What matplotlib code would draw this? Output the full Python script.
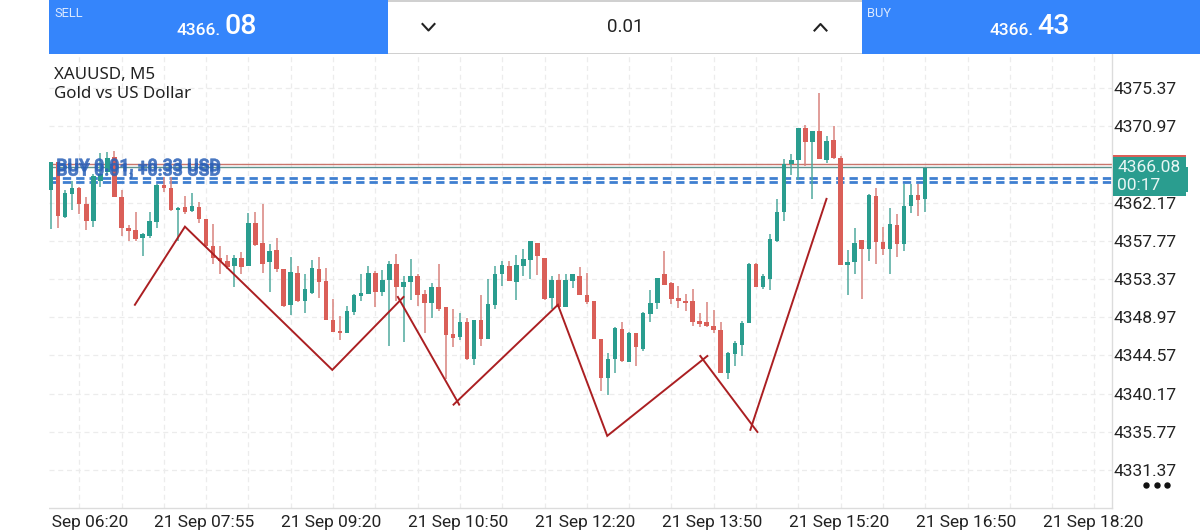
import matplotlib
matplotlib.use("Agg")
import matplotlib.pyplot as plt
import matplotlib.patheffects as pe
from matplotlib.patches import Rectangle
from matplotlib.transforms import ScaledTranslation

W, H = 1200, 532

opens = [4363.6,4366.8,4360.5,4363.2,4363.8,4362.0,4360.0,4364.7,4365.7,4367.4,
         4362.8,4359.2,4359.0,4358.1,4358.3,4359.9,4364.2,4363.8,4361.3,4361.7,
         4361.2,4361.7,4360.3,4357.2,4355.8,4355.5,4354.9,4355.8,4354.9,4359.8,
         4357.5,4355.3,4356.7,4354.5,4350.4,4354.1,4350.8,4351.8,4354.5,4353.1,
         4348.7,4347.4,4347.1,4349.6,4351.4,4351.7,4354.1,4351.9,4353.2,4355.1,
         4352.4,4353.0,4353.7,4351.7,4350.6,4352.4,4350.1,4347.0,4346.7,4348.4,
         4344.2,4348.7,4346.5,4350.4,4353.9,4354.9,4353.0,4354.9,4355.6,4357.5,
         4355.8,4351.2,4353.2,4350.2,4353.1,4353.7,4351.5,4350.8,4346.5,4342.0,
         4344.1,4347.6,4343.8,4347.1,4345.3,4349.3,4350.6,4353.9,4352.9,4351.2,
         4350.8,4350.8,4348.5,4348.4,4348.0,4347.5,4342.6,4344.7,4345.8,4348.3,
         4355.1,4352.4,4353.4,4357.8,4361.1,4366.6,4367.1,4370.8,4369.2,4370.4,
         4367.1,4369.4,4367.3,4355.0,4355.3,4357.9,4356.8,4362.9,4357.6,4356.8,
         4359.6,4357.4,4361.8,4363.1,4362.6]
highs = [4366.8,4366.8,4363.6,4364.7,4364.0,4362.8,4365.5,4367.9,4368.0,4368.1,
         4363.6,4359.6,4361.1,4358.7,4361.1,4364.3,4365.1,4365.1,4361.7,4362.9,
         4363.3,4362.2,4360.3,4359.7,4357.2,4356.1,4356.1,4356.5,4361.0,4361.1,
         4362.0,4357.4,4358.1,4354.5,4355.9,4354.9,4353.9,4355.6,4355.9,4354.6,
         4351.1,4349.1,4350.3,4351.7,4354.0,4354.9,4354.3,4354.4,4355.5,4356.2,
         4353.7,4355.7,4354.0,4352.1,4352.9,4355.1,4350.1,4349.9,4349.4,4348.9,
         4348.7,4351.5,4353.4,4354.9,4355.4,4355.4,4356.1,4356.8,4357.7,4357.5,
         4355.8,4353.7,4354.0,4353.9,4353.9,4354.8,4354.1,4350.8,4346.5,4344.8,
         4347.8,4348.4,4347.3,4347.1,4349.6,4352.1,4353.5,4356.6,4353.0,4352.6,
         4351.7,4352.2,4349.5,4350.7,4349.8,4348.4,4345.0,4346.2,4348.5,4355.2,
         4355.2,4354.0,4358.5,4362.6,4367.2,4367.8,4370.8,4371.1,4370.4,4374.8,
         4369.8,4371.0,4367.5,4356.7,4359.3,4357.9,4363.2,4363.8,4359.4,4361.5,
         4360.8,4364.3,4364.3,4364.3,4366.2]
lows = [4359.1,4359.2,4360.4,4361.3,4360.8,4359.0,4359.4,4364.0,4365.5,4362.8,
        4358.3,4357.8,4357.8,4356.0,4358.1,4359.3,4363.4,4361.2,4357.8,4360.9,
        4361.1,4359.8,4357.0,4355.1,4354.0,4354.5,4352.5,4354.0,4354.9,4357.2,
        4354.1,4351.9,4354.2,4350.2,4349.2,4350.7,4349.4,4351.7,4351.2,4348.6,
        4347.3,4346.4,4347.1,4349.2,4350.8,4351.7,4350.1,4351.4,4345.7,4350.8,
        4346.1,4350.9,4350.3,4347.1,4348.9,4349.7,4341.9,4345.5,4346.4,4344.0,
        4343.5,4345.6,4346.5,4349.9,4352.6,4353.1,4350.9,4353.7,4353.4,4353.8,
        4351.0,4349.9,4350.1,4350.1,4352.3,4351.5,4350.5,4346.5,4340.5,4340.0,
        4342.6,4343.8,4343.8,4343.4,4345.1,4348.4,4349.9,4352.7,4350.5,4350.0,
        4349.7,4348.0,4347.8,4347.8,4347.2,4342.6,4341.8,4343.4,4344.5,4348.3,
        4352.4,4352.2,4352.1,4357.6,4360.1,4365.3,4364.8,4366.4,4362.6,4367.2,
        4366.7,4367.2,4355.0,4351.5,4353.9,4351.1,4355.5,4355.1,4356.1,4353.9,
        4355.9,4356.6,4361.0,4360.6,4361.1]
closes = [4366.8,4360.6,4363.3,4363.8,4362.0,4360.0,4365.2,4365.5,4367.3,4362.8,
          4359.2,4358.9,4358.0,4358.5,4360.0,4364.2,4363.8,4361.3,4361.5,4361.1,
          4361.8,4360.3,4357.2,4355.8,4355.4,4354.7,4355.8,4354.8,4359.8,4357.3,
          4355.1,4356.6,4354.5,4350.3,4354.2,4350.8,4352.2,4354.6,4353.0,4348.6,
          4347.3,4347.2,4349.7,4351.5,4351.8,4354.1,4351.9,4353.2,4355.1,4352.5,
          4353.0,4353.7,4351.5,4350.6,4352.4,4349.9,4346.9,4346.6,4348.4,4344.2,
          4348.7,4346.5,4350.5,4354.0,4355.0,4353.1,4355.0,4355.7,4357.7,4356.0,
          4351.1,4353.3,4350.2,4353.2,4353.9,4351.5,4350.7,4346.5,4342.0,4344.2,
          4347.7,4343.9,4347.2,4345.5,4349.5,4350.6,4353.5,4352.7,4351.1,4350.8,
          4350.6,4348.4,4348.2,4347.9,4347.5,4342.6,4344.9,4346.0,4348.3,4355.1,
          4352.4,4353.7,4358.0,4361.1,4366.6,4367.1,4370.8,4369.1,4370.4,4367.2,
          4369.3,4367.3,4355.0,4355.3,4357.5,4356.8,4363.0,4357.6,4356.8,4359.7,
          4357.4,4361.8,4363.1,4362.5,4366.2]

price_ticks = [4375.37, 4370.97, 4366.57, 4362.17, 4357.77, 4353.37,
               4348.97, 4344.57, 4340.17, 4335.77, 4331.37]
hidden_price_tick = 4366.57  # sits under the current-price tag in the reference
grid_positions = [4 + 6 * k for k in range(25)]
time_labels = ["21 Sep 06:20", "21 Sep 07:55", "21 Sep 09:20", "21 Sep 10:50",
               "21 Sep 12:20", "21 Sep 13:50", "21 Sep 15:20", "21 Sep 16:50",
               "21 Sep 18:20"]

zig_a_x = [11.9, 19.0, 39.9, 50.0]
zig_a_y = [4350.4, 4359.4, 4342.9, 4351.3]
zig_b_x = [49.2, 57.9]
zig_b_y = [4351.3, 4338.9]
zig_c_x = [57.1, 71.9, 78.9, 93.1]
zig_c_y = [4338.9, 4350.4, 4335.3, 4344.5]
zig_d_x = [92.1, 100.2]
zig_d_y = [4344.5, 4335.75]
zig_e_x = [99.2, 110.0]
zig_e_y = [4336.0, 4362.6]

upper_level = 4366.62
lower_level = 4366.27
position_levels = [4365.04, 4364.58]

BLUE = "#3585fb"
GREEN = "#2a9d8f"
RED = "#da5f58"
GREEN_W = "#4fa99e"
RED_W = "#d9837d"
GRID = "#ececec"
SANS = "Roboto"

fig = plt.figure(figsize=(W / 100, H / 100), dpi=100, facecolor="white")
L, R, T, B = 49, 1111.5, 53, 508
ax = fig.add_axes([L / W, 1 - B / H, (R - L) / W, (B - T) / H])
ax.set_xlim((L - 51) / 7.05, (R - 51) / 7.05)
ax.set_ylim(4375.37 - (B - 88) / 8.682, 4375.37 - (T - 88) / 8.682)

for s in ("top", "left"):
    ax.spines[s].set_visible(False)
for s in ("right", "bottom"):
    ax.spines[s].set_color("#dcdcdc")
    ax.spines[s].set_linewidth(1)

ax.yaxis.tick_right()
ax.set_yticks(price_ticks)
ax.set_yticklabels(["" if p == hidden_price_tick else f"{p:.2f}" for p in price_ticks],
                   fontfamily=SANS, fontsize=12.5, color="#222222")
ax.set_xticks(grid_positions)
ax.set_xticklabels([time_labels[k // 3] if k % 3 == 0 else "" for k in range(len(grid_positions))],
                   fontfamily=SANS, fontsize=12.5, color="#222222")
ax.tick_params(axis="y", length=0, pad=1.5)
ax.tick_params(axis="x", length=0, pad=5)
shift = ScaledTranslation(-1.5 / 100, 0, fig.dpi_scale_trans)
for lbl in ax.get_xticklabels():
    lbl.set_transform(lbl.get_transform() + shift)
ax.grid(True, color=GRID, lw=0.9, ls=(0, (4, 3)), zorder=0)
ax.set_axisbelow(True)

ax.axhline(upper_level, color="#c9756c", lw=1.0, zorder=2)
ax.axhline(lower_level, color="#5f938e", lw=1.0, zorder=2)
for lev in position_levels:
    ax.axhline(lev, color="#3f7fd0", lw=2.0, ls=(0, (3.0, 1.8)), zorder=2)

for i, (o, h, l, c) in enumerate(zip(opens, highs, lows, closes)):
    up = c >= o
    ax.vlines(i, l, h, color=GREEN_W if up else RED_W, lw=1.1, zorder=3)
    ax.bar(i, abs(c - o), bottom=min(o, c), width=0.64,
           color=GREEN if up else RED, zorder=3.1, linewidth=0)

for xs, ys in [(zig_a_x, zig_a_y), (zig_b_x, zig_b_y), (zig_c_x, zig_c_y),
               (zig_d_x, zig_d_y), (zig_e_x, zig_e_y)]:
    ax.plot(xs, ys, color="#ab1f22", lw=1.4, zorder=4, solid_joinstyle="miter")

order_label = ax.text(0.75, 4366.05, "BUY 0.01, +0.33 USD", fontfamily=SANS,
                      fontweight="bold", fontsize=12.6, color="#2c62b8",
                      va="center", ha="left", zorder=5, alpha=0.85)
order_label.set_path_effects([
    pe.Stroke(offset=(0, 1.6), linewidth=0.4, foreground="#2c62b8"),
    pe.Stroke(offset=(0, -1.6), linewidth=0.4, foreground="#2c62b8"),
])

# screen furniture, placed in pixels
ui = fig.add_axes([0, 0, 1, 1], zorder=10)
ui.set_xlim(0, W)
ui.set_ylim(H, 0)
ui.axis("off")
ui.patch.set_alpha(0)

ui.add_patch(Rectangle((0, 0), 49, H, fc="white", ec="none"))
ui.add_patch(Rectangle((49, 0), 338.5, 53.5, fc=BLUE, ec="none"))
ui.add_patch(Rectangle((862, 0), 338, 53.5, fc=BLUE, ec="none"))
ui.add_patch(Rectangle((387.5, 0), 474.5, 1.5, fc="#d0d0d0", ec="none"))
ui.add_patch(Rectangle((387.5, 52.5), 474.5, 1.2, fc="#d0d0d0", ec="none"))

ui.text(54, 13.5, "SELL", color="#dbe9ff", fontsize=9.3, family=SANS, va="center")
ui.text(221, 30.5, "4366.", color="white", fontsize=12.5, family=SANS, va="center", ha="right", fontweight="medium")
ui.text(224, 27, "08", color="white", fontsize=20.5, family=SANS, va="center", ha="left", fontweight="medium")
ui.text(867, 13.5, "BUY", color="#dbe9ff", fontsize=9.3, family=SANS, va="center")
ui.text(1034, 30.5, "4366.", color="white", fontsize=12.5, family=SANS, va="center", ha="right", fontweight="medium")
ui.text(1037, 27, "43", color="white", fontsize=20.5, family=SANS, va="center", ha="left", fontweight="medium")
ui.text(625, 27.5, "0.01", color="#222222", fontsize=13.5, family=SANS, va="center", ha="center")
ui.plot([422.5, 428.5, 434.5], [24, 30.5, 24], color="#222222", lw=1.5)
ui.plot([814.5, 820.5, 826.5], [30.5, 24, 30.5], color="#222222", lw=1.5)

ui.text(54.5, 75, "XAUUSD, M5", color="#222222", fontsize=12.2, family="Noto Sans", va="center")
ui.text(54.5, 94.5, "Gold vs US Dollar", color="#222222", fontsize=12.2, family="Noto Sans", va="center")

ui.add_patch(Rectangle((1113, 155), 73, 2.2, fc=RED, ec="none"))
ui.add_patch(Rectangle((1113, 157), 73, 38.5, fc=GREEN, ec="none"))
ui.add_patch(Rectangle((1186, 167), 2, 25, fc=GREEN, ec="none"))
ui.text(1117, 168, "4366.08", color="#e8f6f4", fontsize=12.5, family=SANS, va="center")
ui.text(1117, 186, "00:17", color="#e8f6f4", fontsize=12.5, family=SANS, va="center")
ui.plot([1146, 1157, 1167], [485, 485, 485], ls="none", marker="o", ms=3.6, color="#111111")

fig.savefig("out.png", dpi=100)
